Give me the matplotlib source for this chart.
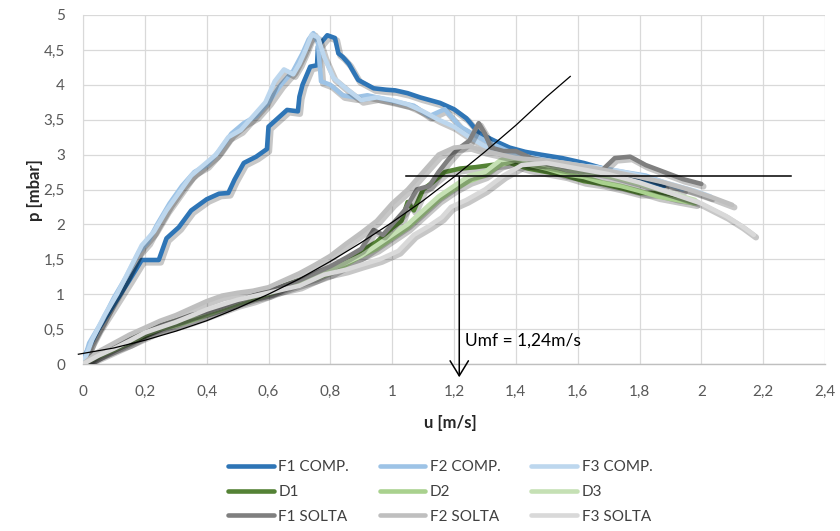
import matplotlib
matplotlib.use("Agg")
import matplotlib.pyplot as plt
import matplotlib.patheffects as pe
from matplotlib.ticker import FuncFormatter, MultipleLocator
from matplotlib.patches import FancyArrowPatch
from matplotlib.lines import Line2D

plt.rcParams['font.family'] = ['Lato', 'DejaVu Sans']

# ---------------- data ----------------
f1c_u = [0.0, 0.01, 0.05, 0.10, 0.15, 0.19, 0.22, 0.245, 0.27, 0.31, 0.35, 0.40, 0.44, 0.47, 0.49, 0.52,
         0.56, 0.595, 0.60, 0.63, 0.66, 0.695, 0.70, 0.71, 0.735, 0.757, 0.76, 0.79, 0.815, 0.826, 0.84,
         0.86, 0.89, 0.94, 0.98, 1.01, 1.05, 1.09, 1.155, 1.20, 1.24, 1.28, 1.33, 1.38, 1.43, 1.48, 1.55,
         1.62, 1.70, 1.76, 1.80, 1.84, 1.88]
f1c_p = [0.0, 0.16, 0.5, 0.85, 1.2, 1.49, 1.49, 1.49, 1.8, 1.96, 2.2, 2.36, 2.44, 2.45, 2.64, 2.88,
         2.97, 3.08, 3.40, 3.52, 3.64, 3.62, 3.83, 4.0, 4.26, 4.28, 4.55, 4.71, 4.67, 4.45, 4.40,
         4.3, 4.07, 3.95, 3.93, 3.92, 3.88, 3.82, 3.74, 3.65, 3.52, 3.31, 3.2, 3.1, 3.04, 3.0, 2.95,
         2.88, 2.78, 2.72, 2.65, 2.6, 2.55]

f2c_u = [0, 0.02, 0.06, 0.10, 0.14, 0.18, 0.21, 0.24, 0.28, 0.32, 0.36, 0.40, 0.44, 0.48, 0.52, 0.56,
         0.60, 0.64, 0.68, 0.71, 0.73, 0.745, 0.76, 0.77, 0.80, 0.84, 0.88, 0.92, 0.97, 1.02, 1.07, 1.12,
         1.17, 1.22, 1.26, 1.30, 1.35, 1.40, 1.46, 1.52, 1.60, 1.68, 1.75, 1.82, 1.88, 1.94]
f2c_p = [0, 0.3, 0.6, 0.95, 1.25, 1.6, 1.75, 2.0, 2.3, 2.55, 2.75, 2.85, 3.05, 3.3, 3.45, 3.55,
         3.75, 4.0, 4.2, 4.45, 4.65, 4.74, 4.6, 4.05, 4.0, 3.85, 3.82, 3.85, 3.8, 3.75, 3.7, 3.55,
         3.65, 3.4, 3.3, 3.2, 3.1, 3.0, 2.95, 2.9, 2.85, 2.8, 2.75, 2.7, 2.6, 2.5]

f3c_u = [0, 0.03, 0.07, 0.11, 0.15, 0.19, 0.23, 0.27, 0.31, 0.35, 0.39, 0.43, 0.47, 0.51, 0.55, 0.59,
         0.62, 0.65, 0.68, 0.70, 0.72, 0.74, 0.76, 0.78, 0.81, 0.85, 0.90, 0.95, 1.00, 1.05, 1.10, 1.15,
         1.20, 1.25, 1.30, 1.36, 1.42, 1.50, 1.58, 1.66, 1.74, 1.82, 1.90, 1.98, 2.03]
f3c_p = [0, 0.35, 0.7, 1.0, 1.35, 1.7, 1.9, 2.2, 2.45, 2.7, 2.85, 3.0, 3.25, 3.35, 3.55, 3.75,
         4.05, 4.22, 4.15, 4.3, 4.5, 4.72, 4.68, 4.4, 4.1, 3.95, 3.78, 3.82, 3.78, 3.72, 3.62, 3.5,
         3.4, 3.25, 3.12, 3.02, 2.95, 2.9, 2.85, 2.82, 2.76, 2.68, 2.58, 2.48, 2.4]

d1_u = [0, 0.05, 0.1, 0.15, 0.2, 0.25, 0.3, 0.35, 0.4, 0.45, 0.5, 0.55, 0.6, 0.65, 0.7, 0.75, 0.8,
        0.85, 0.9, 0.95, 1.0, 1.03, 1.05, 1.07, 1.1, 1.13, 1.17, 1.22, 1.27, 1.32, 1.38, 1.44, 1.5,
        1.56, 1.62, 1.68, 1.74, 1.80, 1.86, 1.92, 1.97]
d1_p = [0, 0.12, 0.22, 0.3, 0.4, 0.5, 0.57, 0.65, 0.72, 0.8, 0.88, 0.95, 1.0, 1.12, 1.2, 1.28, 1.38,
        1.5, 1.62, 1.75, 1.95, 2.05, 2.32, 2.2, 2.5, 2.6, 2.75, 2.8, 2.82, 2.85, 2.88, 2.8, 2.75,
        2.7, 2.62, 2.58, 2.52, 2.45, 2.45, 2.38, 2.35]

d2_u = [0, 0.05, 0.1, 0.15, 0.2, 0.25, 0.3, 0.35, 0.4, 0.45, 0.5, 0.55, 0.6, 0.65, 0.7, 0.75, 0.8,
        0.85, 0.9, 0.95, 1.0, 1.05, 1.1, 1.15, 1.2, 1.25, 1.3, 1.35, 1.4, 1.45, 1.5, 1.56, 1.62, 1.68,
        1.74, 1.80, 1.86, 1.92, 1.98]
d2_p = [0, 0.1, 0.2, 0.3, 0.42, 0.5, 0.55, 0.62, 0.7, 0.78, 0.86, 0.92, 1.0, 1.08, 1.15, 1.22, 1.3,
        1.42, 1.55, 1.65, 1.8, 1.95, 2.15, 2.35, 2.5, 2.62, 2.7, 2.85, 2.92, 2.85, 2.8, 2.72, 2.68, 2.6,
        2.55, 2.48, 2.4, 2.35, 2.3]

d3_u = [0, 0.05, 0.1, 0.15, 0.2, 0.25, 0.3, 0.35, 0.4, 0.45, 0.5, 0.55, 0.6, 0.65, 0.7, 0.75, 0.8,
        0.85, 0.9, 0.95, 1.0, 1.05, 1.1, 1.15, 1.2, 1.25, 1.3, 1.35, 1.4, 1.45, 1.5, 1.58, 1.66, 1.74,
        1.82, 1.9, 1.98]
d3_p = [0, 0.15, 0.25, 0.35, 0.45, 0.55, 0.62, 0.68, 0.75, 0.82, 0.9, 0.97, 1.02, 1.1, 1.18, 1.25,
        1.35, 1.45, 1.55, 1.7, 1.85, 2.0, 2.2, 2.4, 2.55, 2.7, 2.75, 2.92, 2.95, 2.9, 2.85, 2.78, 2.72,
        2.65, 2.55, 2.45, 2.35]

f1s_u = [0, 0.05, 0.1, 0.15, 0.2, 0.25, 0.3, 0.35, 0.4, 0.45, 0.5, 0.55, 0.6, 0.65, 0.7, 0.75, 0.8,
         0.85, 0.9, 0.94, 0.97, 1.0, 1.04, 1.08, 1.12, 1.15, 1.18, 1.21, 1.25, 1.28, 1.30, 1.32, 1.36,
         1.40, 1.45, 1.5, 1.56, 1.62, 1.68, 1.72, 1.77, 1.82, 1.88, 1.94, 2.0]
f1s_p = [0, 0.12, 0.25, 0.35, 0.45, 0.55, 0.62, 0.7, 0.75, 0.82, 0.9, 0.98, 1.05, 1.12, 1.2, 1.3,
         1.4, 1.52, 1.65, 1.92, 1.85, 2.0, 2.2, 2.5, 2.55, 2.75, 2.92, 3.07, 3.2, 3.45, 3.3, 3.1,
         3.05, 3.05, 2.95, 2.9, 2.82, 2.8, 2.78, 2.95, 2.97, 2.85, 2.75, 2.65, 2.58]

f2s_u = [0, 0.05, 0.1, 0.15, 0.2, 0.25, 0.3, 0.35, 0.4, 0.45, 0.5, 0.55, 0.6, 0.65, 0.7, 0.75, 0.8,
         0.85, 0.9, 0.95, 1.0, 1.05, 1.1, 1.15, 1.2, 1.25, 1.3, 1.35, 1.4, 1.48, 1.56, 1.64, 1.72, 1.8,
         1.88, 1.96, 2.04, 2.1]
f2s_p = [0, 0.18, 0.3, 0.42, 0.52, 0.62, 0.7, 0.8, 0.9, 0.98, 1.02, 1.05, 1.1, 1.2, 1.3, 1.42, 1.55,
         1.72, 1.88, 2.05, 2.3, 2.5, 2.75, 3.0, 3.1, 3.12, 3.05, 3.0, 2.95, 2.92, 2.88, 2.82, 2.75,
         2.68, 2.6, 2.5, 2.38, 2.28]

f3s_u = [0, 0.05, 0.1, 0.15, 0.2, 0.3, 0.4, 0.5, 0.6, 0.7, 0.78, 0.85, 0.9, 0.96, 1.02, 1.07, 1.12,
         1.16, 1.19, 1.24, 1.30, 1.36, 1.42, 1.5, 1.6, 1.7, 1.8, 1.9, 2.0, 2.08, 2.13, 2.17]
f3s_p = [0, 0.12, 0.22, 0.33, 0.45, 0.6, 0.78, 0.92, 1.02, 1.12, 1.28, 1.35, 1.42, 1.5, 1.62, 1.85,
         1.98, 2.1, 2.25, 2.35, 2.5, 2.7, 2.85, 2.88, 2.8, 2.72, 2.6, 2.45, 2.3, 2.12, 1.98, 1.85]

trend_u = [-0.015, 0.1, 0.2, 0.3, 0.4, 0.5, 0.6, 0.7, 0.8, 0.9, 1.0, 1.1, 1.2, 1.3, 1.4, 1.5, 1.576]
trend_p = [0.14, 0.23, 0.34, 0.47, 0.62, 0.80, 1.0, 1.22, 1.47, 1.74, 2.03, 2.34, 2.68, 3.04, 3.42, 3.83, 4.12]

umf_line_u = [1.045, 2.29]
umf_line_p = [2.69, 2.69]
umf_x = 1.217
umf_label = "Umf = 1,24m/s"

series = [
    ("F1 COMP.", f1c_u, f1c_p, "#2E75B6"),
    ("F2 COMP.", f2c_u, f2c_p, "#9DC3E6"),
    ("F3 COMP.", f3c_u, f3c_p, "#BDD7EE"),
    ("D1", d1_u, d1_p, "#548235"),
    ("D2", d2_u, d2_p, "#A9D18E"),
    ("D3", d3_u, d3_p, "#C5E0B4"),
    ("F1 SOLTA", f1s_u, f1s_p, "#7F7F7F"),
    ("F2 SOLTA", f2s_u, f2s_p, "#BFBFBF"),
    ("F3 SOLTA", f3s_u, f3s_p, "#D9D9D9"),
]

# ---------------- figure ----------------
fig = plt.figure(figsize=(8.4, 5.31), dpi=100)
ax = fig.add_axes([83/840, 1-364/531, (825-83)/840, (364-15)/531])

shadow = [pe.SimpleLineShadow(offset=(1.5, -1.8), shadow_color='#000000', alpha=0.22, linewidth=4.5),
          pe.Normal()]
handles = []
for name, u, p, c in series:
    ax.plot(u, p, color=c, lw=3.3, solid_joinstyle='round', solid_capstyle='round',
            path_effects=shadow, zorder=3)
    handles.append(Line2D([], [], color=c, lw=3.3, solid_capstyle='round', label=name))

ax.plot(trend_u, trend_p, color='black', lw=0.9, clip_on=False, zorder=5)
ax.plot(umf_line_u, umf_line_p, color='black', lw=1.1, clip_on=False, zorder=5)
arr = FancyArrowPatch((umf_x, 2.69), (umf_x, -0.19), arrowstyle='->,head_length=0.9,head_width=0.55',
                      mutation_scale=12, color='black', lw=1.1, clip_on=False, zorder=5,
                      shrinkA=0, shrinkB=0)
ax.add_patch(arr)
ax.text(1.237, 0.34, umf_label, fontsize=12.5, color='black', ha='left', va='center', zorder=6)

ax.set_xlim(0, 2.4)
ax.set_ylim(0, 5)
ax.xaxis.set_major_locator(MultipleLocator(0.2))
ax.yaxis.set_major_locator(MultipleLocator(0.5))

def comma(v, pos):
    s = f"{v:.1f}".rstrip('0').rstrip('.')
    if s == '-0':
        s = '0'
    return s.replace('.', ',')

ax.xaxis.set_major_formatter(FuncFormatter(comma))
ax.yaxis.set_major_formatter(FuncFormatter(comma))
ax.tick_params(axis='both', length=0, labelsize=11, labelcolor='#595959')
ax.tick_params(axis='x', pad=15)
ax.tick_params(axis='y', pad=13)
ax.grid(True, color='#D9D9D9', lw=0.9)
ax.set_axisbelow(True)
for s in ['top', 'right']:
    ax.spines[s].set_visible(False)
ax.spines['left'].set_color('#D9D9D9')
ax.spines['bottom'].set_color('#BFBFBF')
ax.spines['bottom'].set_linewidth(1.0)

fig.text(450/840, 1-423/531, "u [m/s]", ha='center', va='center', fontsize=12,
         fontweight='bold', color='#262626')
fig.text(35/840, 1-190/531, "p [mbar]", ha='center', va='center', fontsize=12,
         fontweight='bold', color='#262626', rotation=90)

# legend filled row by row like the reference
order = [0, 3, 6, 1, 4, 7, 2, 5, 8]
fig.legend(handles=[handles[i] for i in order], loc='center', bbox_to_anchor=(0.524, 1-492/531), ncol=3,
           frameon=False, fontsize=11, handlelength=3.0, handletextpad=0.3,
           columnspacing=2.0, labelspacing=0.7, labelcolor='#404040')

fig.savefig("out.png", dpi=100)
